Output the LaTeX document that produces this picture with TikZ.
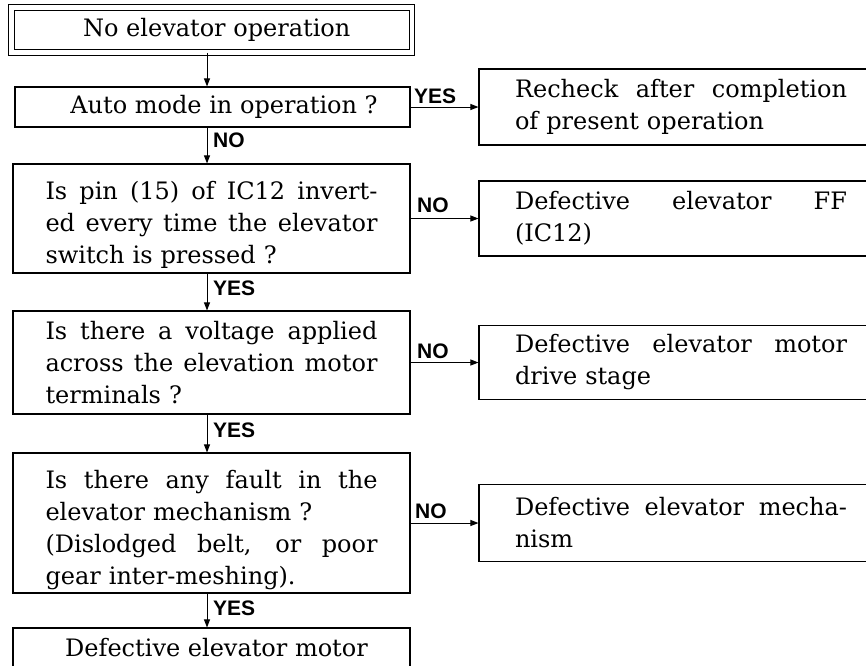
\documentclass[tikz,border=0pt]{standalone}
\usepackage{fontspec}
\setmainfont{DejaVu Serif}
\newfontfamily\labfont{Liberation Sans}
\usetikzlibrary{arrows.meta}
\newcommand{\justline}[1]{{\spaceskip=0pt\xspaceskip=0pt\makebox[332pt][s]{#1}}}
\begin{document}
\begin{tikzpicture}[x=1pt,y=-1pt,
 box/.style={draw, line width=1.1pt, inner xsep=0pt, inner ysep=0pt, font=\fontsize{24}{32}\selectfont},
 lbox/.style={box, text width=332pt, align=left, minimum width=397pt},
 rbox/.style={box, text width=420pt, align=left, minimum width=420pt},
 arr/.style={line width=1pt, -{Triangle[length=8pt,width=6pt]}},
 lab/.style={font=\labfont\bfseries\fontsize{21}{21}\selectfont, inner sep=0pt, anchor=base west},
]
\useasboundingbox (0,0) rectangle (866,665);
\clip (0,0) rectangle (866,665);

% left column
\node[box, double, double distance=4.5pt, line width=0.9pt, minimum width=400.5pt, minimum height=45pt, align=center] (start) at (211.75,30) {\hspace*{10pt}No elevator operation};
\node[box, minimum width=395pt, minimum height=40pt, align=center] (auto) at (212.5,107) {\hspace*{23pt}Auto mode in operation ?};
\node[lbox, minimum height=109pt] (ic) at (211.5,218.5) {\rule{0pt}{30pt}\justline{Is pin (15) of IC12 invert-}\\\justline{ed every time the elevator}\\switch is pressed ?};
\node[lbox, minimum height=103pt] (volt) at (211.5,362.5) {\justline{Is there a voltage applied}\\\justline{across the elevation motor}\\terminals ?};
\node[lbox, minimum height=140pt] (mech) at (211.5,523) {\rule{0pt}{32pt}\justline{Is there any fault in the}\\elevator mechanism ?\\\justline{(Dislodged belt, or poor}\\gear inter-meshing).};
\node[box, minimum width=397pt, minimum height=40pt, align=center] (motor) at (211.5,648) {\hspace*{10pt}Defective elevator motor};

% right column
\node[rbox, minimum height=76pt] (rec) at (689,107) {\hspace*{36pt}\justline{Recheck after completion}\\\hspace*{36pt}of present operation};
\node[rbox, minimum height=75pt] (ff) at (689,218.5) {\hspace*{36pt}\justline{Defective elevator FF}\\\hspace*{36pt}(IC12)};
\node[rbox, minimum height=74pt] (drv) at (689,362.5) {\hspace*{36pt}\justline{Defective elevator motor}\\\hspace*{36pt}drive stage};
\node[rbox, minimum height=77pt] (mm) at (689,523) {\hspace*{36pt}\justline{Defective elevator mecha-}\\\hspace*{36pt}nism};

% connectors
\coordinate (ax) at (207,0);
\draw[arr] (start.south -| ax) -- (auto.north -| ax);
\draw[arr] (auto.south -| ax) -- (ic.north -| ax);
\draw[arr] (ic.south -| ax) -- (volt.north -| ax);
\draw[arr] (volt.south -| ax) -- (mech.north -| ax);
\draw[arr] (mech.south -| ax) -- (motor.north -| ax);
\draw[arr] (auto.east) -- (rec.west);
\draw[arr] (ic.east) -- (ff.west);
\draw[arr] (volt.east) -- (drv.west);
\draw[arr] (mech.east) -- (mm.west);

% labels
\node[lab] (yes1) at (414,103) {YES};
\node[lab] (no1) at (213,147) {NO};
\node[lab] (no2) at (417,212) {NO};
\node[lab] (yes2) at (213,295) {YES};
\node[lab] (no3) at (417,358) {NO};
\node[lab] (yes3) at (213,437) {YES};
\node[lab] (no4) at (415,518) {NO};
\node[lab] (yes4) at (213,615) {YES};
\end{tikzpicture}
\end{document}
